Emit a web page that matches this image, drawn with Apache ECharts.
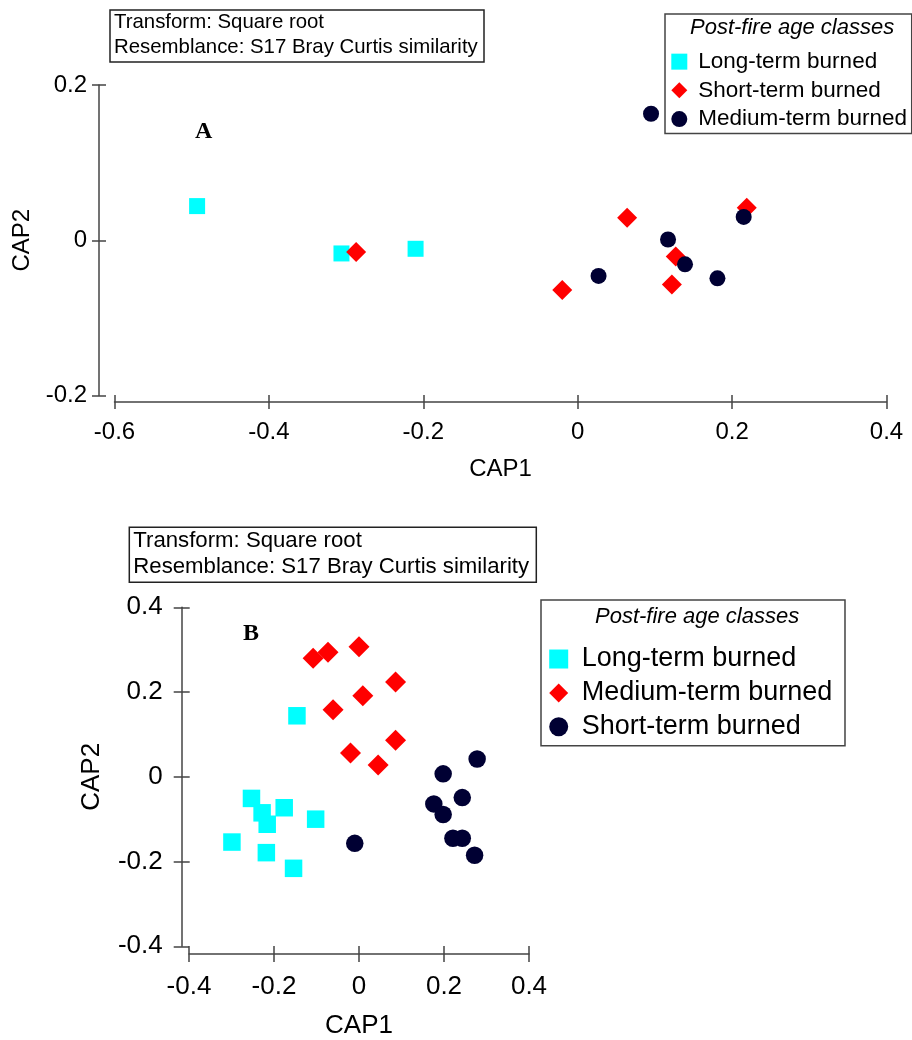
<!DOCTYPE html>
<html>
<head>
<meta charset="utf-8">
<title>CAP ordination – post-fire age classes</title>
<script src="https://cdn.jsdelivr.net/npm/echarts@6/dist/echarts.min.js"></script>
<style>
  html, body { margin: 0; padding: 0; background: #fff; }
  #chart { width: 912px; height: 1040px; }
</style>
</head>
<body>
<div id="chart"></div>
<script>
// panel A: [CAP1, CAP2]
const longA = [[-0.493, 0.044], [-0.306, -0.017], [-0.210, -0.011]]
const shortA = [[-0.287, -0.015], [0.064, 0.029], [0.219, 0.042], [-0.020, -0.064], [0.127, -0.021], [0.122, -0.057]]
const mediumA = [[0.095, 0.163], [0.215, 0.030], [0.117, 0.001], [0.139, -0.031], [0.027, -0.046], [0.181, -0.049]]

// panel B: [CAP1, CAP2]
const longB = [[-0.146, 0.144], [-0.253, -0.051], [-0.228, -0.085], [-0.216, -0.112], [-0.176, -0.073],
  [-0.102, -0.100], [-0.299, -0.154], [-0.218, -0.179], [-0.154, -0.216]]
const mediumB = [[-0.108, 0.280], [-0.073, 0.294], [0.000, 0.307], [0.086, 0.224], [0.009, 0.191],
  [-0.061, 0.158], [0.086, 0.086], [-0.020, 0.056], [0.045, 0.028]]
const shortB = [[-0.010, -0.157], [0.278, 0.042], [0.198, 0.007], [0.243, -0.049], [0.176, -0.064],
  [0.198, -0.089], [0.221, -0.145], [0.243, -0.145], [0.272, -0.185]]

// axis ranges and tick step
const xRangeA = [-0.6, 0.4]
const yRangeA = [-0.2, 0.2]
const xRangeB = [-0.4, 0.4]
const yRangeB = [-0.4, 0.4]
const tickStep = 0.2

const legendTitle = 'Post-fire age classes'
const noteLines = ['Transform: Square root', 'Resemblance: S17 Bray Curtis similarity']

const FONT = "'Liberation Sans', Arial, sans-serif"
const SERIF = "'Liberation Serif', 'Times New Roman', serif"
const LINE = '#444'
const CYAN = '#00ffff'
const RED = '#ff0000'
const NAVY = '#000033'

function fmt(v) {
  return Math.abs(v) < 1e-9 ? '0' : String(+v.toFixed(1))
}

// main axis (line, outer ticks, labels) + twin with inner ticks -> crossing ticks
function axisPair(o) {
  const base = {
    type: 'value',
    gridIndex: o.grid,
    min: o.range[0],
    max: o.range[1],
    interval: tickStep,
    position: o.pos,
    offset: o.offset,
    splitLine: { show: false },
  }
  const tick = { show: true, length: o.tick, lineStyle: { color: LINE, width: 1.5 } }
  return [
    {
      ...base,
      name: o.name,
      nameLocation: 'middle',
      nameGap: o.nameGap,
      nameTextStyle: { fontFamily: FONT, fontSize: o.size, color: '#000' },
      axisLine: { show: true, onZero: false, lineStyle: { color: LINE, width: 1.5 } },
      axisTick: { ...tick, inside: false },
      axisLabel: { show: true, margin: o.margin, fontFamily: FONT, fontSize: o.size, color: '#000', formatter: fmt },
    },
    {
      ...base,
      axisLine: { show: false, onZero: false },
      axisTick: { ...tick, inside: true },
      axisLabel: { show: false },
    },
  ]
}

function scatter(name, data, xi, yi, symbol, size, color, z) {
  return {
    type: 'scatter',
    name,
    data,
    xAxisIndex: xi,
    yAxisIndex: yi,
    symbol,
    symbolSize: size,
    itemStyle: { color, opacity: 1 },
    z,
    silent: true,
    emphasis: { disabled: true },
  }
}

const chart = echarts.init(document.getElementById('chart'), null, { renderer: 'canvas' })

chart.setOption({
  backgroundColor: '#fff',
  animation: false,
  grid: [
    { left: 114.5, top: 85, width: 772, height: 310.5 },
    { left: 189, top: 607.3, width: 340, height: 340 },
  ],
  xAxis: [
    ...axisPair({ grid: 0, range: xRangeA, pos: 'bottom', offset: 6.5, tick: 7, name: 'CAP1', nameGap: 55, size: 24, margin: 18 }),
    ...axisPair({ grid: 1, range: xRangeB, pos: 'bottom', offset: 7.7, tick: 8, name: 'CAP1', nameGap: 59, size: 26, margin: 19.5 }),
  ],
  yAxis: [
    ...axisPair({ grid: 0, range: yRangeA, pos: 'left', offset: 15.5, tick: 7, name: 'CAP2', nameGap: 63, size: 24, margin: 12 }),
    ...axisPair({ grid: 1, range: yRangeB, pos: 'left', offset: 7.3, tick: 8, name: 'CAP2', nameGap: 77, size: 26, margin: 19 }),
  ],
  title: [
    {
      text: noteLines.join('\n'),
      left: 110, top: 10,
      padding: [0, 7, 3, 4],
      borderColor: '#222', borderWidth: 1.5,
      textStyle: { fontFamily: FONT, fontSize: 20.4, fontWeight: 'normal', color: '#000', lineHeight: 24.6 },
    },
    {
      text: noteLines.join('\n'),
      left: 129.3, top: 527.3,
      padding: [0, 7, 3, 4],
      borderColor: '#222', borderWidth: 1.5,
      textStyle: { fontFamily: FONT, fontSize: 22.2, fontWeight: 'normal', color: '#000', lineHeight: 26.3 },
    },
    {
      text: 'A', left: 195, top: 119.5, padding: 0,
      textStyle: { fontFamily: SERIF, fontSize: 24, fontWeight: 'bold', color: '#000', lineHeight: 24 },
    },
    {
      text: 'B', left: 243, top: 622, padding: 0,
      textStyle: { fontFamily: SERIF, fontSize: 24, fontWeight: 'bold', color: '#000', lineHeight: 24 },
    },
    {
      text: legendTitle, left: 690, top: 16.5, padding: 0,
      textStyle: { fontFamily: FONT, fontSize: 22, fontStyle: 'italic', fontWeight: 'normal', color: '#000', lineHeight: 22 },
    },
    {
      text: legendTitle, left: 595, top: 605.7, padding: 0,
      textStyle: { fontFamily: FONT, fontSize: 22, fontStyle: 'italic', fontWeight: 'normal', color: '#000', lineHeight: 22 },
    },
  ],
  legend: [
    {
      left: 665, top: 14, orient: 'vertical',
      padding: [33.3, 4.6, 0, 6.3],
      itemGap: 0, itemWidth: 16, itemHeight: 16,
      borderColor: LINE, borderWidth: 1.5,
      selectedMode: false,
      textStyle: { fontFamily: FONT, fontSize: 22.5, color: '#000', lineHeight: 28.7, padding: [0, 0, 0, 6] },
      data: [
        { name: 'Long-term burned', icon: 'rect', itemStyle: { color: CYAN } },
        { name: 'Short-term burned', icon: 'diamond', itemStyle: { color: RED } },
        { name: 'Medium-term burned', icon: 'circle', itemStyle: { color: NAVY } },
      ],
    },
    {
      left: 541, top: 600, orient: 'vertical',
      padding: [42.1, 12.7, 2, 8.2],
      itemGap: 0, itemWidth: 19, itemHeight: 19,
      borderColor: LINE, borderWidth: 1.5,
      selectedMode: false,
      textStyle: { fontFamily: FONT, fontSize: 27, color: '#000', lineHeight: 33.85, padding: [0, 0, 0, 8.5] },
      data: [
        { name: 'Long-term burned', icon: 'rect', itemStyle: { color: CYAN } },
        { name: 'Medium-term burned', icon: 'diamond', itemStyle: { color: RED } },
        { name: 'Short-term burned', icon: 'circle', itemStyle: { color: NAVY } },
      ],
    },
  ],
  series: [
    scatter('Long-term burned', longA, 0, 0, 'rect', 16, CYAN, 2),
    scatter('Short-term burned', shortA, 0, 0, 'diamond', 20, RED, 3),
    scatter('Medium-term burned', mediumA, 0, 0, 'circle', 16, NAVY, 4),
    scatter('Long-term burned', longB, 2, 2, 'rect', 17.5, CYAN, 2),
    scatter('Medium-term burned', mediumB, 2, 2, 'diamond', 21, RED, 3),
    scatter('Short-term burned', shortB, 2, 2, 'circle', 17.5, NAVY, 4),
  ],
})
</script>
</body>
</html>
